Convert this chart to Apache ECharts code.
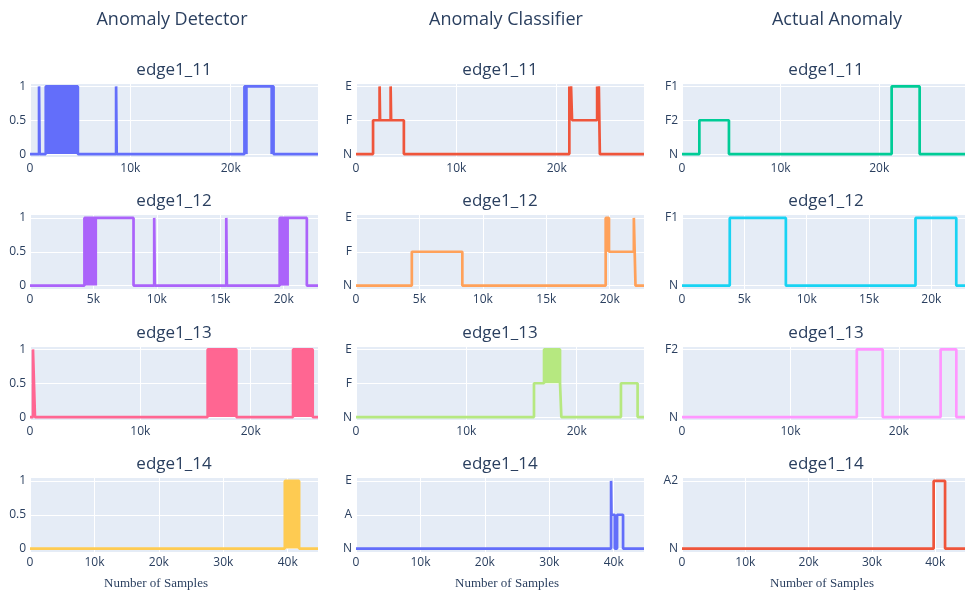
<!DOCTYPE html>
<html>
<head>
<meta charset="utf-8">
<script src="https://cdn.jsdelivr.net/npm/echarts@6/dist/echarts.min.js"></script>
<style>
  html, body { margin: 0; padding: 0; background: #fff; }
  #chart { width: 968px; height: 593px; }
</style>
</head>
<body>
<div id="chart"></div>
<script>
// ---------------- DATA ----------------
const columnTitles = ['Anomaly Detector', 'Anomaly Classifier', 'Actual Anomaly'];
const edgeNames = ['edge1_11', 'edge1_12', 'edge1_13', 'edge1_14'];
const sampleCounts = [28700, 22700, 26100, 44700];
const xTickSteps = [10000, 5000, 10000, 10000];
const xAxisTitle = 'Number of Samples';

// y tick labels
const detectorTicks = [0, 0.5, 1];
const classifierLevels = [['N', 'F', 'E'], ['N', 'F', 'E'], ['N', 'F', 'E'], ['N', 'A', 'E']];
const actualLevels = [['N', 'F2', 'F1'], ['N', 'F1'], ['N', 'F2'], ['N', 'A2']];

// step vertices [sample, value / level index]
const det11 = [[0,0],[900,0],[900,1],[960,1],[960,0],[1570,0],[1570,1],[4770,1],[4770,0],[8580,0],[8580,1],[8640,1],[8640,0],[21370,0],[21370,1],[24270,1],[24270,0],[28700,0]];
const det12 = [[0,0],[4290,0],[4290,1],[8160,1],[8160,0],[9790,0],[9790,1],[9840,1],[9840,0],[15470,0],[15470,1],[15520,1],[15520,0],[19680,0],[19680,1],[21820,1],[21820,0],[22700,0]];
const det13 = [[0,0],[270,0],[270,1],[450,1],[450,0],[16100,0],[16100,1],[18700,1],[18700,0],[23840,0],[23840,1],[25620,1],[25620,0],[26100,0]];
const det14 = [[0,0],[39550,0],[39550,1],[41770,1],[41770,0],[44700,0]];

const cls11 = [[0,0],[1700,0],[1700,1],[2350,1],[2350,2],[2400,2],[2400,1],[3450,1],[3450,2],[3500,2],[3500,1],[4770,1],[4770,0],[21260,0],[21260,2],[21330,2],[21330,1],[21430,1],[21430,2],[21530,2],[21530,1],[24030,1],[24030,2],[24100,2],[24100,1],[24200,1],[24200,2],[24300,2],[24300,0],[28700,0]];
const cls12 = [[0,0],[4400,0],[4400,1],[8380,1],[8380,0],[19680,0],[19680,2],[19940,2],[19940,1],[21900,1],[21900,2],[22030,2],[22030,0],[22700,0]];
const cls13 = [[0,0],[16130,0],[16130,1],[17040,1],[17040,2],[18490,2],[18490,1],[18610,1],[18610,0],[24010,0],[24010,1],[25520,1],[25520,0],[26100,0]];
const cls14 = [[0,0],[39590,0],[39590,2],[39650,2],[39650,1],[40160,1],[40160,0],[40520,0],[40520,1],[41450,1],[41450,0],[44700,0]];

const act11 = [[0,0],[1760,0],[1760,1],[4760,1],[4760,0],[21260,0],[21260,2],[24100,2],[24100,0],[28700,0]];
const act12 = [[0,0],[3830,0],[3830,1],[8330,1],[8330,0],[18730,0],[18730,1],[22000,1],[22000,0],[22700,0]];
const act13 = [[0,0],[16120,0],[16120,1],[18510,1],[18510,0],[23850,0],[23850,1],[25300,1],[25300,0],[26100,0]];
const act14 = [[0,0],[39750,0],[39750,1],[41550,1],[41550,0],[44700,0]];

// dense oscillation bursts [startSample, endSample, low, high]
const det11Bursts = [[1570,4770,0,1],[21370,21700,0,1],[23950,24270,0,1]];
const det12Bursts = [[4290,5290,0,1],[19680,20410,0,1]];
const det13Bursts = [[16100,18700,0,1],[23840,25620,0,1]];
const det14Bursts = [[39550,41770,0,1]];
const cls12Bursts = [[19680,19940,1,2]];
const cls13Bursts = [[17040,18490,1,2]];

const colors = [
  ['#636EFA', '#EF553B', '#00CC96'],
  ['#AB63FA', '#FFA15A', '#19D3F3'],
  ['#FF6692', '#B6E880', '#FF97FF'],
  ['#FECB52', '#636EFA', '#EF553B']
];

const steps = [
  [det11, cls11, act11],
  [det12, cls12, act12],
  [det13, cls13, act13],
  [det14, cls14, act14]
];
const bursts = [
  [det11Bursts, [], []],
  [det12Bursts, cls12Bursts, []],
  [det13Bursts, cls13Bursts, []],
  [det14Bursts, [], []]
];

// ---------------- LAYOUT ----------------
const colLeft = [30, 356, 682];
const plotW = 288;
const rowTop = [83, 214.5, 346, 477.5];
const plotH = 74.5;
const colTitleX = [172, 506, 837];
const axisTitleX = [156, 507, 822];
const textColor = '#2a3f5f';

const grids = [], xAxes = [], yAxes = [], series = [], graphics = [];

for (let r = 0; r < 4; r++) {
  for (let c = 0; c < 3; c++) {
    const idx = r * 3 + c;
    grids.push({
      left: colLeft[c], top: rowTop[r], width: plotW, height: plotH,
      show: true, backgroundColor: '#E5ECF6', borderWidth: 0
    });
    const step = xTickSteps[r];
    xAxes.push({
      type: 'value', gridIndex: idx, min: 0, max: sampleCounts[r],
      minInterval: step, maxInterval: step,
      axisLine: { show: false }, axisTick: { show: false },
      axisLabel: {
        color: textColor, fontSize: 12, fontFamily: 'Open Sans', margin: 5,
        formatter: v => (Math.abs(v % step) < 1e-6 ? (v === 0 ? '0' : (v / 1000) + 'k') : '')
      },
      splitLine: { show: true, lineStyle: { color: '#ffffff', width: 1 } }
    });
    let levels, nLev;
    if (c === 0) { levels = null; nLev = 2; }
    else if (c === 1) { levels = classifierLevels[r]; nLev = levels.length; }
    else { levels = actualLevels[r]; nLev = levels.length; }
    const span = c === 0 ? 1 : nLev - 1;
    const pad = span * 0.05;
    const yStep = c === 0 ? 0.5 : 1;
    yAxes.push({
      type: 'value', gridIndex: idx, min: -pad, max: span + pad,
      minInterval: yStep, maxInterval: yStep,
      axisLine: { show: false }, axisTick: { show: false },
      axisLabel: {
        color: textColor, fontSize: 12, fontFamily: 'Open Sans', margin: 4,
        formatter: v => {
          if (c === 0) {
            const t = detectorTicks.find(d => Math.abs(d - v) < 1e-6);
            return t === undefined ? '' : String(t);
          }
          const k = Math.round(v);
          return (Math.abs(v - k) < 1e-6 && levels[k] !== undefined) ? levels[k] : '';
        }
      },
      splitLine: { show: true, lineStyle: { color: '#ffffff', width: 1 } }
    });
    const col = colors[r][c];
    if (bursts[r][c].length) {
      series.push({
        type: 'custom', xAxisIndex: idx, yAxisIndex: idx,
        data: bursts[r][c],
        encode: { x: [0, 1], y: [2, 3] },
        renderItem: (params, api) => {
          const p0 = api.coord([api.value(0), api.value(3)]);
          const p1 = api.coord([api.value(1), api.value(2)]);
          return {
            type: 'rect',
            shape: { x: p0[0], y: p0[1], width: p1[0] - p0[0], height: p1[1] - p0[1] },
            style: { fill: col }
          };
        },
        silent: true, animation: false, z: 3
      });
    }
    series.push({
      type: 'line', xAxisIndex: idx, yAxisIndex: idx,
      data: steps[r][c], showSymbol: false, symbol: 'none',
      lineStyle: { color: col, width: 2.7 },
      animation: false, silent: true, z: 4, clip: false
    });
    graphics.push({
      type: 'text', x: colLeft[c] + plotW / 2, y: rowTop[r] - 13,
      style: {
        text: edgeNames[r], fill: textColor, font: '17px "Open Sans"',
        textAlign: 'center', textVerticalAlign: 'middle'
      }
    });
  }
}

for (let c = 0; c < 3; c++) {
  graphics.push({
    type: 'text', x: colTitleX[c], y: 20,
    style: {
      text: columnTitles[c], fill: textColor, font: '18px "Open Sans"',
      textAlign: 'center', textVerticalAlign: 'middle'
    }
  });
  graphics.push({
    type: 'text', x: axisTitleX[c], y: 584,
    style: {
      text: xAxisTitle, fill: textColor, font: '13px "Liberation Serif"',
      textAlign: 'center', textVerticalAlign: 'middle'
    }
  });
}

const chart = echarts.init(document.getElementById('chart'), null, { renderer: 'canvas' });
chart.setOption({
  animation: false,
  grid: grids,
  xAxis: xAxes,
  yAxis: yAxes,
  series: series,
  graphic: graphics
});
</script>
</body>
</html>
